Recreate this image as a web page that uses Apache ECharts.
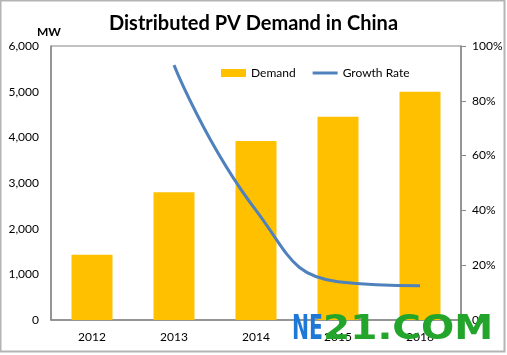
<!DOCTYPE html>
<html>
<head>
<meta charset="utf-8">
<script src="https://cdn.jsdelivr.net/npm/echarts@6/dist/echarts.min.js"></script>
<style>
html,body{margin:0;padding:0;background:#fff;}
#chart{width:507px;height:355px;}
</style>
</head>
<body>
<div id="chart"></div>
<script>
const categories = ['2012', '2013', '2014', '2015', '2016'];
const demand = [1430, 2800, 3920, 4450, 5000];
const growthRate = [null, 0.93, 0.40, 0.14, 0.125];
const leftTicks = [0, 1000, 2000, 3000, 4000, 5000, 6000];
const rightTicks = [0, 0.2, 0.4, 0.6, 0.8, 1.0];

const chart = echarts.init(document.getElementById('chart'));
const font = 'Lato';
const lineIcon = 'path://M0,0L0.01,0L0.01,0.01Z M0,2.6L25,2.6L25,5.4L0,5.4Z M24.99,7.99L25,7.99L25,8Z';
chart.setOption({
  animation: false,
  backgroundColor: '#fff',
  title: {
    text: 'Distributed PV Demand in China',
    left: 'center', top: 9,
    textStyle: {fontFamily: font, fontWeight: 'bold', fontSize: 20, color: '#000'}
  },
  graphic: [
    {type: 'rect', shape: {x: 0.5, y: 0.5, width: 504, height: 351}, style: {fill: 'none', stroke: '#b4b4b4', lineWidth: 2}, z: 100},
    {type: 'text', left: 37, top: 26, style: {text: 'MW', font: 'bold 12px ' + font, fill: '#000'}},
    {type: 'text', x: 292, y: 330, scaleX: 0.6, z: 200,
      style: {text: 'NE', x: 0, y: 0, font: 'bold 34px "DejaVu Sans"', fill: '#1e78d6', align: 'left', verticalAlign: 'middle'}},
    {type: 'text', x: 323, y: 330, scaleX: 1.15, z: 200,
      style: {text: '21.COM', x: 0, y: 0, font: 'bold 34px "DejaVu Sans"', fill: '#22a52a', align: 'left', verticalAlign: 'middle'}}
  ],
  legend: {
    left: 221, top: 67, padding: 0,
    itemWidth: 25, itemHeight: 8, itemGap: 17,
    textStyle: {fontFamily: font, fontSize: 12, color: '#000'},
    data: [{name: 'Demand', icon: 'rect'}, {name: 'Growth Rate', icon: lineIcon}]
  },
  grid: {left: 51, right: 46, top: 46, bottom: 35, show: true, borderColor: '#868686', borderWidth: 1, containLabel: false},
  xAxis: {
    type: 'category', data: categories,
    axisLine: {lineStyle: {color: '#868686', width: 1.5}},
    axisTick: {show: false},
    axisLabel: {fontFamily: font, fontSize: 12, color: '#000', margin: 11}
  },
  yAxis: [
    {
      type: 'value', min: leftTicks[0], max: leftTicks[leftTicks.length - 1], interval: 1000,
      axisLine: {show: true, lineStyle: {color: '#868686', width: 1.5}},
      axisTick: {show: false},
      splitLine: {show: false},
      axisLabel: {fontFamily: font, fontSize: 12, color: '#000', margin: 12,
        formatter: v => v.toLocaleString('en-US')}
    },
    {
      type: 'value', min: rightTicks[0], max: rightTicks[rightTicks.length - 1], interval: 0.2,
      position: 'right',
      axisLine: {show: true, lineStyle: {color: '#868686', width: 1.5}},
      axisTick: {show: true, inside: false, length: 5, lineStyle: {color: '#868686'}},
      splitLine: {show: false},
      axisLabel: {fontFamily: font, fontSize: 12, color: '#000', margin: 11,
        formatter: v => Math.round(v * 100) + '%'}
    }
  ],
  series: [
    {
      name: 'Demand', type: 'bar', data: demand, barWidth: 41,
      itemStyle: {color: '#ffc000'}
    },
    {
      name: 'Growth Rate', type: 'line', yAxisIndex: 1, data: growthRate,
      smooth: 0.5, symbol: 'none', showSymbol: false,
      lineStyle: {color: '#4f81bd', width: 3},
      itemStyle: {color: '#4f81bd'}
    }
  ]
});
</script>
</body>
</html>
